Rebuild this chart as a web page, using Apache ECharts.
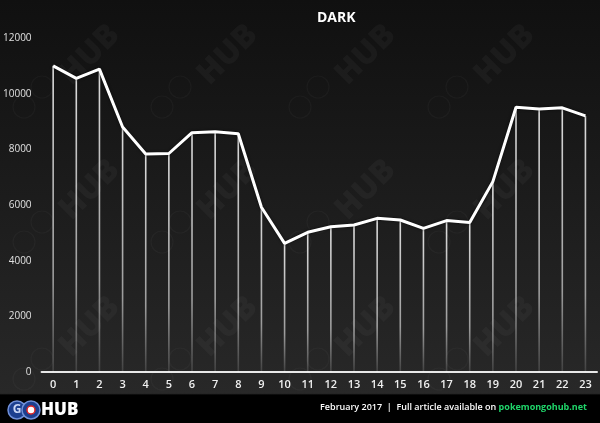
<!DOCTYPE html>
<html>
<head>
<meta charset="utf-8">
<script src="https://cdn.jsdelivr.net/npm/echarts@6/dist/echarts.min.js"></script>
<style>
  html, body { margin: 0; padding: 0; background: #000; }
  #chart { width: 600px; height: 423px; }
</style>
</head>
<body>
<div id="chart"></div>
<script>
// 数据
const hours = ['0','1','2','3','4','5','6','7','8','9','10','11','12','13','14','15','16','17','18','19','20','21','22','23'];
const darkValues = [11000, 10550, 10880, 8800, 7830, 7850, 8600, 8630, 8560, 5920, 4620, 5020, 5220, 5280, 5520, 5460, 5160, 5440, 5370, 6840, 9510, 9450, 9490, 9200];
const yTicks = [0, 2000, 4000, 6000, 8000, 10000, 12000];

(function () {
    let chartDom = document.getElementById('chart');
    let myChart = echarts.init(chartDom);

    // 水印 (GO HUB 平铺)
    let marks = [];
    const cols = [90, 228, 366, 505];
    const rows = [55, 190, 327];
    rows.forEach(function (ry) {
        cols.forEach(function (cx) {
            marks.push({
                type: 'text', x: cx, y: ry, rotation: Math.PI / 4, z: 0,
                style: { text: 'HUB', fill: 'rgba(255,255,255,0.035)', font: '900 32px "Open Sans"', align: 'center', verticalAlign: 'middle' },
                silent: true
            });
            marks.push({
                type: 'circle', shape: { cx: cx - 48, cy: ry + 32, r: 11 }, z: 0,
                style: { fill: 'none', stroke: 'rgba(255,255,255,0.03)', lineWidth: 1.2 }, silent: true
            });
            marks.push({
                type: 'circle', shape: { cx: cx - 66, cy: ry + 52, r: 11 }, z: 0,
                style: { fill: 'none', stroke: 'rgba(255,255,255,0.03)', lineWidth: 1.2 }, silent: true
            });
        });
    });

    let option = {
        backgroundColor: {
            type: 'linear', x: 0, y: 0, x2: 0, y2: 1,
            colorStops: [
                { offset: 0, color: '#101010' },
                { offset: 0.93, color: '#282828' },
                { offset: 0.934, color: '#000' },
                { offset: 1, color: '#000' }
            ]
        },
        animation: false,
        title: {
            text: 'DARK',
            left: 312,
            top: 6,
            textStyle: { color: '#fff', fontSize: 14, fontWeight: 'bold', fontFamily: 'Open Sans' }
        },
        grid: { left: 40, right: 3, top: 38, bottom: 51 },
        xAxis: {
            type: 'category',
            data: hours,
            boundaryGap: true,
            axisTick: { show: false },
            axisLine: { lineStyle: { color: '#e8e8e8', width: 2 } },
            axisLabel: { color: '#f0f0f0', fontSize: 11, fontWeight: 600, margin: 7, fontFamily: 'Open Sans' }
        },
        yAxis: {
            type: 'value',
            min: 0,
            max: 12000,
            interval: 2000,
            axisLine: { show: false },
            axisTick: { show: false },
            splitLine: { show: false },
            axisLabel: {
                color: '#e0e0e0', fontSize: 10, margin: 10, fontFamily: 'Open Sans',
                formatter: function (v) { return yTicks.indexOf(v) >= 0 ? String(v) : ''; }
            }
        },
        series: [
            {
                // 竖线
                type: 'bar',
                data: darkValues,
                barWidth: 1.6,
                silent: true,
                itemStyle: {
                    color: {
                        type: 'linear', x: 0, y: 0, x2: 0, y2: 1,
                        colorStops: [
                            { offset: 0, color: 'rgba(255,255,255,0.85)' },
                            { offset: 0.7, color: 'rgba(255,255,255,0.55)' },
                            { offset: 1, color: 'rgba(255,255,255,0.12)' }
                        ]
                    }
                },
                z: 2
            },
            {
                type: 'line',
                data: darkValues,
                symbol: 'none',
                lineStyle: { color: '#ffffff', width: 3, shadowColor: 'rgba(0,0,0,0.6)', shadowBlur: 3 },
                z: 3
            }
        ],
        graphic: marks.concat([
            {
                type: 'circle', shape: { cx: 17, cy: 410, r: 9 }, z: 10,
                style: { fill: '#1c3f8f', stroke: '#6f8fd8', lineWidth: 1.5 }
            },
            {
                type: 'text', x: 17, y: 410, z: 11,
                style: { text: 'G', fill: '#c9d6f5', font: 'bold 12px "Open Sans"', align: 'center', verticalAlign: 'middle' }
            },
            {
                type: 'circle', shape: { cx: 31, cy: 410, r: 9 }, z: 10,
                style: { fill: '#1c3f8f', stroke: '#6f8fd8', lineWidth: 1.5 }
            },
            {
                type: 'circle', shape: { cx: 31, cy: 410, r: 4 }, z: 11,
                style: { fill: '#ffffff', stroke: '#d22', lineWidth: 1.5 }
            },
            {
                type: 'text', x: 41, y: 410, z: 11,
                style: { text: 'HUB', fill: '#ffffff', font: '900 17px "Open Sans"', verticalAlign: 'middle' }
            },
            {
                type: 'text', right: 13, top: 403, z: 11,
                style: {
                    text: '{w|February 2017  |  Full article available on }{g|pokemongohub.net}',
                    rich: {
                        w: { fill: '#ffffff', font: '600 9px "Open Sans"' },
                        g: { fill: '#1fd66a', font: 'bold 9px "Open Sans"' }
                    }
                }
            }
        ])
    };

    myChart.setOption(option);
    window.addEventListener('resize', function () {
        myChart.resize();
    });
})();
</script>
</body>
</html>
